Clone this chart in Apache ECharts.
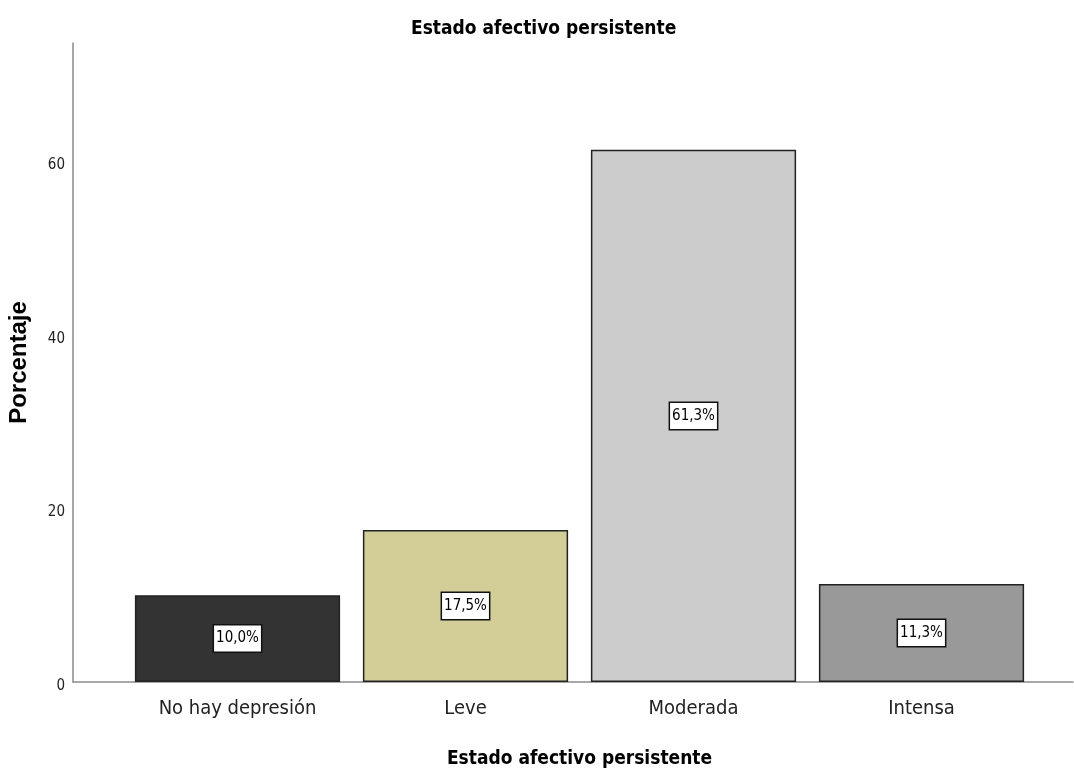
<!DOCTYPE html>
<html lang="es">
<head>
    <meta charset="UTF-8">
    <title>Estado afectivo persistente</title>
    <script src="https://cdn.jsdelivr.net/npm/echarts@6/dist/echarts.min.js"></script>
    <style>
        html, body { margin: 0; padding: 0; background: #fff; }
    </style>
</head>
<body>
<div id="main" style="width: 1074px;height:771px;"></div>

<script type="text/javascript">
    // datos del grafico
    var categorias = ['No hay depresión', 'Leve', 'Moderada', 'Intensa'];
    var porcentajes = [10.0, 17.5, 61.3, 11.3];
    var ticksY = [0, 20, 40, 60];

    var colores = ['#333333', '#d3ce97', '#cccccc', '#999999'];
    var fuente = '"Liberation Sans Narrow", "DejaVu Sans Condensed", Arial, sans-serif';

    var myChart = echarts.init(document.getElementById('main'));

    var option = {
        animation: false,
        title: {
            text: 'Estado afectivo persistente',
            left: 406,
            top: 15,
            textStyle: { fontFamily: fuente, fontWeight: 'bold', fontSize: 19, color: '#000' }
        },
        grid: [
            { left: 123.5, right: 38.5, top: 43, bottom: 89, outerBoundsMode: 'none' },
            { left: 73, right: 1, top: 43, bottom: 89, outerBoundsMode: 'none' }
        ],
        xAxis: [
            {
                type: 'category',
                gridIndex: 0,
                data: categorias,
                name: 'Estado afectivo persistente',
                nameLocation: 'middle',
                nameGap: 68,
                nameTextStyle: { fontFamily: fuente, fontWeight: 'bold', fontSize: 19, color: '#000' },
                axisLine: { show: false },
                axisTick: { show: false },
                axisLabel: { interval: 0, fontFamily: fuente, fontSize: 20, color: '#222', margin: 17 }
            },
            {
                type: 'value',
                gridIndex: 1,
                min: 0,
                max: 1,
                axisLine: { show: true, onZero: false, lineStyle: { color: '#8a8a8a', width: 1.5 } },
                axisTick: { show: false },
                axisLabel: { show: false },
                splitLine: { show: false }
            }
        ],
        yAxis: [
            {
                type: 'value',
                gridIndex: 0,
                min: 0,
                max: 73.6,
                interval: 20,
                offset: 50.5,
                name: 'Porcentaje',
                nameLocation: 'middle',
                nameGap: 42,
                nameTextStyle: { fontFamily: '"Liberation Sans", Arial, sans-serif', fontWeight: 'bold', fontSize: 24, color: '#000' },
                axisLine: { show: true, lineStyle: { color: '#8a8a8a', width: 1.5 } },
                axisTick: { show: false },
                splitLine: { show: false },
                axisLabel: {
                    fontFamily: fuente,
                    fontSize: 15,
                    color: '#222',
                    margin: 8,
                    verticalAlign: 'top',
                    lineHeight: 8,
                    showMaxLabel: false,
                    formatter: function (v) {
                        return ticksY.indexOf(v) >= 0 ? String(v) : '';
                    }
                }
            },
            {
                type: 'value',
                gridIndex: 1,
                show: false
            }
        ],
        series: [
            {
                name: 'Porcentaje',
                type: 'bar',
                xAxisIndex: 0,
                yAxisIndex: 0,
                barWidth: '90%',
                data: porcentajes,
                itemStyle: {
                    color: function (p) { return colores[p.dataIndex]; },
                    borderColor: '#222',
                    borderWidth: 1.5
                },
                label: {
                    show: true,
                    position: 'inside',
                    fontFamily: fuente,
                    fontSize: 15,
                    color: '#000',
                    backgroundColor: '#fff',
                    borderColor: '#111',
                    borderWidth: 1.5,
                    padding: [6, 2, 5, 2],
                    formatter: function (p) {
                        return p.value.toFixed(1).replace('.', ',') + '%';
                    }
                }
            }
        ]
    };

    myChart.setOption(option);
</script>
</body>
</html>
